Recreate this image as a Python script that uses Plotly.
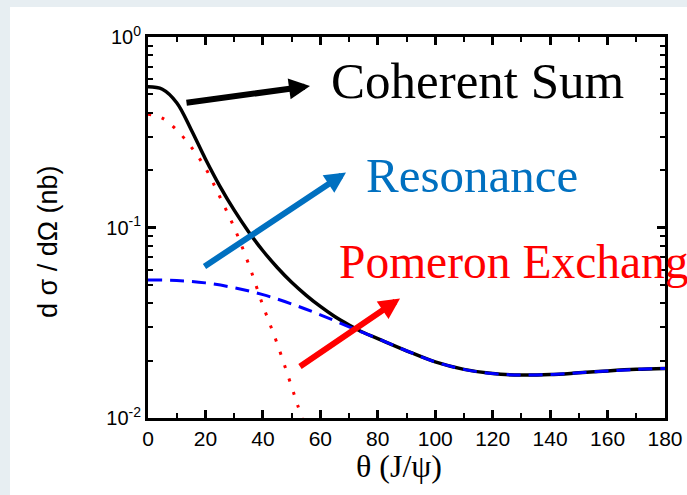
import plotly.graph_objects as go

# ---- data ----
theta_sum = [0, 5, 10, 15, 20, 25, 30, 35, 40, 45, 50, 55, 60, 65, 70, 75, 80, 90, 100, 110, 120, 130, 140, 150, 160, 170, 180]
coherent_sum = [0.548, 0.532, 0.452, 0.327, 0.229, 0.165, 0.1233, 0.0951, 0.0755, 0.0617, 0.0516, 0.0442, 0.0385,
                0.0341, 0.0308, 0.0281, 0.0261, 0.02254, 0.0197, 0.018, 0.0171, 0.0168, 0.0169, 0.01726, 0.01766,
                0.018, 0.0182]

theta_res = [0, 10, 20, 30, 40, 50, 60, 70, 80, 90, 100, 110, 120, 130, 140, 150, 160, 170, 180]
resonance = [0.053, 0.0527, 0.0512, 0.0483, 0.0444, 0.0397, 0.0348, 0.0301, 0.0261, 0.02254, 0.0197, 0.018,
             0.0171, 0.0168, 0.0169, 0.01726, 0.01766, 0.018, 0.0182]

theta_pom = [0, 5, 10, 15, 20, 25, 30, 35, 40, 45, 50, 52, 54]
pomeron = [0.393, 0.375, 0.325, 0.265, 0.205, 0.145, 0.1, 0.0645, 0.039, 0.0245, 0.0146, 0.0118, 0.0096]

x_ticks = list(range(0, 181, 20))
y_tickvals = [0.01, 0.1, 1]
y_ticktext = ["10<sup>-2</sup>", "10<sup>-1</sup>", "10<sup>0</sup>"]

W, H = 687, 495
L, R, T, B = 148, 665, 37, 418

def px(x):
    return (x - L) / (R - L)

def py(y):
    return (B - y) / (B - T)

fig = go.Figure()
fig.add_trace(go.Scatter(x=theta_pom, y=pomeron, mode="lines",
                         line=dict(color="#ff0000", width=3, dash="3px,11px", shape="spline")))
fig.add_trace(go.Scatter(x=theta_sum, y=coherent_sum, mode="lines",
                         line=dict(color="black", width=3.5, shape="spline")))
fig.add_trace(go.Scatter(x=theta_res, y=resonance, mode="lines",
                         line=dict(color="#0000ff", width=3, dash="14px,8px", shape="spline")))

axis_common = dict(showline=True, linecolor="black", linewidth=3, mirror="ticks", ticks="inside",
                   tickcolor="black", tickwidth=2.5, ticklen=8, showgrid=False, zeroline=False,
                   automargin=False)

fig.update_layout(
    template="none",
    width=W, height=H,
    margin=dict(l=L, r=W - R, t=T, b=H - B, autoexpand=False),
    paper_bgcolor="white", plot_bgcolor="white",
    showlegend=False,
    xaxis=dict(range=[0, 180], tickvals=x_ticks,
               tickfont=dict(family="Liberation Sans, Arial", size=21, color="black"),
               minor=dict(ticks="inside", ticklen=5, tickwidth=2, tickcolor="black", dtick=10, tick0=0),
               **axis_common),
    yaxis=dict(type="log", range=[-2, 0], tickvals=y_tickvals, ticktext=y_ticktext,
               tickfont=dict(family="Liberation Sans, Arial", size=20, color="black"),
               minor=dict(ticks="inside", ticklen=5, tickwidth=2, tickcolor="black", dtick="D1"),
               **axis_common),
)

# slide-like border strips
fig.add_shape(type="rect", xref="paper", yref="paper", x0=px(0), x1=px(W), y0=py(0), y1=py(7),
              fillcolor="#e7eef2", line_width=0, layer="below")
fig.add_shape(type="rect", xref="paper", yref="paper", x0=px(0), x1=px(10), y0=py(0), y1=py(H),
              fillcolor="#e7eef2", line_width=0, layer="below")

# axis titles
fig.add_annotation(text="θ (J/ψ)", xref="paper", yref="paper", x=px(399), y=py(466), showarrow=False,
                   xanchor="center", yanchor="middle",
                   font=dict(family="Liberation Serif, Times New Roman", size=32, color="black"))
fig.add_annotation(text="d σ / dΩ (nb)", xref="paper", yref="paper", x=px(48), y=py(242), showarrow=False,
                   xanchor="center", yanchor="middle", textangle=-90,
                   font=dict(family="Liberation Sans, Arial", size=27, color="black"))

# labels
label_font = "Liberation Serif, Times New Roman"
fig.add_annotation(text="Coherent Sum", xref="paper", yref="paper", x=px(329), y=py(81), xanchor="left",
                   yanchor="middle", showarrow=False, font=dict(family=label_font, size=51, color="black"))
fig.add_annotation(text="Resonance", xref="paper", yref="paper", x=px(364), y=py(175.5), xanchor="left",
                   yanchor="middle", showarrow=False, font=dict(family=label_font, size=49, color="#0070c0"))
fig.add_annotation(text="Pomeron Exchange", xref="paper", yref="paper", x=px(337), y=py(262), xanchor="left",
                   yanchor="middle", showarrow=False, font=dict(family=label_font, size=47.5, color="#ff0000"))

# arrows (tip, tail) in pixels
arrows = [((310, 86), (185, 103), "black"),
          ((346, 172.5), (203, 267.5), "#0070c0"),
          ((400, 298.5), (298.5, 367.5), "#ff0000")]
for (tx, ty), (sx, sy), col in arrows:
    fig.add_annotation(text="", xref="paper", yref="paper", x=px(tx), y=py(ty),
                       ax=sx - tx, ay=sy - ty, axref="pixel", ayref="pixel",
                       showarrow=True, arrowhead=2, arrowsize=0.7, arrowwidth=6, arrowcolor=col,
                       standoff=0, startstandoff=0)

fig.write_html("out.html")
